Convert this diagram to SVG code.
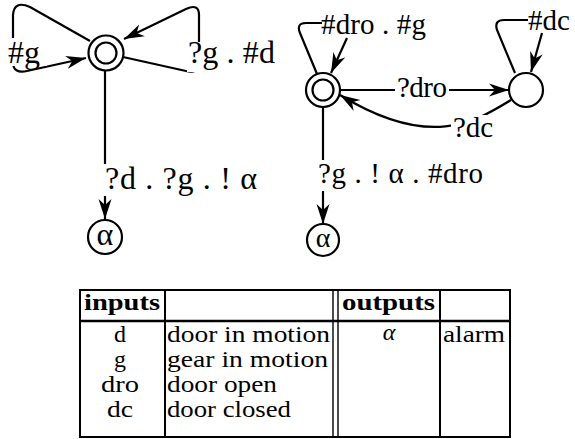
<svg xmlns="http://www.w3.org/2000/svg" width="575" height="439" viewBox="0 0 575 439">
<style>
.ln{fill:none;stroke:#000;stroke-width:2.2}
.nd{fill:#fff;stroke:#000;stroke-width:2.2}
.bg{fill:#fff;stroke:none}
.lb{font-family:"Liberation Serif","Times New Roman",serif;fill:#000}
.l1{font-size:32px}
.l2{font-size:29px}
.tb{font-family:"Liberation Serif","Times New Roman",serif;font-size:24px;fill:#000}
.hd{font-weight:bold}
.tl{fill:none;stroke:#000;stroke-width:2}
.tt{fill:none;stroke:#000;stroke-width:1.4}
</style>
<defs>
<marker id="ah" viewBox="0 0 21 14" markerWidth="21" markerHeight="14" refX="20" refY="7" orient="auto" markerUnits="userSpaceOnUse">
<path d="M0,0.5 L20,7 L0,13.5 L6,7 Z" fill="#000"/>
</marker>
</defs>

<g id="connectors">
  <!-- left diagram -->
  <path class="ln" d="M90,41 L30,7 Q14,0 13,15 L13,62 Q13,74 27,71 L86,58" marker-end="url(#ah)"/>
  <path class="ln" d="M123,57 L186,71 Q199,74 199,62 L199,15 Q199,3 186,9 L124,39" marker-end="url(#ah)"/>
  <path class="ln" d="M105,71 L105,219" marker-end="url(#ah)"/>
  <!-- right diagram -->
  <path class="ln" d="M340,90 L509,90" marker-end="url(#ah)"/>
  <path class="ln" d="M511,100 C475,122 430,150 340,95" marker-end="url(#ah)"/>
  <path class="ln" d="M317,74 L300,33 Q296,23 306,23 L322,23"/>
  <path class="ln" d="M347,38 L331,73" marker-end="url(#ah)"/>
  <path class="ln" d="M515,73 L497,30 Q494,20 504,20 L528,20"/>
  <path class="ln" d="M542,33 L531,72" marker-end="url(#ah)"/>
  <path class="ln" d="M323,107 L323,224" marker-end="url(#ah)"/>

  <!-- labels -->
  <rect class="bg" x="6" y="38" width="41" height="28"/>
  <text class="lb l1" x="8" y="63">#g</text>
  <rect class="bg" x="187" y="42" width="91" height="30"/>
  <text class="lb l1" x="188" y="63" textLength="87" lengthAdjust="spacing">?g . #d</text>
  <rect class="bg" x="103" y="164" width="157" height="32"/>
  <text class="lb l1" x="105" y="189" textLength="152" lengthAdjust="spacing">?d . ?g . ! α</text>

  <text class="lb l2" x="321" y="34" textLength="105" lengthAdjust="spacing">#dro . #g</text>
  <text class="lb l2" x="528" y="30">#dc</text>
  <rect class="bg" x="395" y="77" width="54" height="23"/>
  <text class="lb l2" x="397" y="97" textLength="50" lengthAdjust="spacing">?dro</text>
  <rect class="bg" x="451" y="115" width="44" height="25"/>
  <text class="lb l2" x="453" y="137">?dc</text>
  <rect class="bg" x="316" y="160" width="171" height="31"/>
  <text class="lb l2" x="318" y="183" textLength="165" lengthAdjust="spacing">?g . ! α . #dro</text>
</g>

<g id="n_left_init">
  <circle class="nd" cx="106" cy="53" r="17.5"/>
  <circle class="nd" cx="106" cy="53" r="10.5"/>
</g>
<g id="n_left_alpha">
  <circle class="nd" cx="105" cy="237" r="17"/>
  <text class="lb" x="105" y="244.5" font-size="32" text-anchor="middle">α</text>
</g>
<g id="n_right_init">
  <circle class="nd" cx="323" cy="90" r="17"/>
  <circle class="nd" cx="323" cy="90" r="10.5"/>
</g>
<g id="n_right_open">
  <circle class="nd" cx="526" cy="90" r="17"/>
</g>
<g id="n_right_alpha">
  <circle class="nd" cx="323" cy="240" r="16"/>
  <text class="lb" x="323" y="246.5" font-size="28" text-anchor="middle">α</text>
</g>

<g id="table">
  <rect class="tl" x="80" y="290" width="430" height="147"/>
  <line class="tl" x1="80" y1="321" x2="510" y2="321" style="stroke-width:2.5"/>
  <line class="tl" x1="165" y1="290" x2="165" y2="437"/>
  <line class="tt" x1="333" y1="290" x2="333" y2="437"/>
  <line class="tt" x1="338" y1="290" x2="338" y2="437"/>
  <line class="tl" x1="440" y1="290" x2="440" y2="437"/>

  <text class="tb hd" x="84" y="310" textLength="76" lengthAdjust="spacingAndGlyphs">inputs</text>
  <text class="tb hd" x="342" y="310" textLength="93" lengthAdjust="spacingAndGlyphs">outputs</text>

  <text class="tb" x="120" y="342" text-anchor="middle">d</text>
  <text class="tb" x="120" y="367" text-anchor="middle">g</text>
  <text class="tb" x="120" y="392" text-anchor="middle" textLength="38" lengthAdjust="spacingAndGlyphs">dro</text>
  <text class="tb" x="120" y="417" text-anchor="middle" textLength="26" lengthAdjust="spacingAndGlyphs">dc</text>

  <text class="tb" x="167" y="342" textLength="163" lengthAdjust="spacingAndGlyphs">door in motion</text>
  <text class="tb" x="167" y="367" textLength="161" lengthAdjust="spacingAndGlyphs">gear in motion</text>
  <text class="tb" x="167" y="392" textLength="110" lengthAdjust="spacingAndGlyphs">door open</text>
  <text class="tb" x="167" y="417" textLength="124" lengthAdjust="spacingAndGlyphs">door closed</text>

  <text class="tb" x="389" y="340" text-anchor="middle" font-style="italic">α</text>
  <text class="tb" x="443" y="342" textLength="62" lengthAdjust="spacingAndGlyphs">alarm</text>
</g>
</svg>
